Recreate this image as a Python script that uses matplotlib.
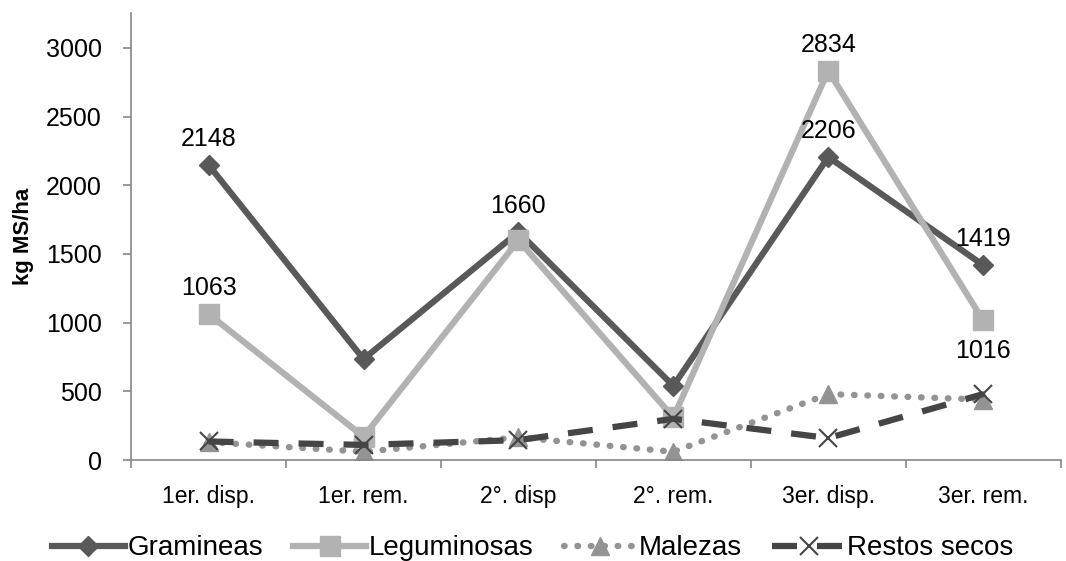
import matplotlib.pyplot as plt
from matplotlib.ticker import FixedLocator

plt.rcParams['font.family'] = ['Liberation Sans', 'DejaVu Sans']

etapas = ["1er. disp.", "1er. rem.", "2°. disp", "2°. rem.", "3er. disp.", "3er. rem."]
gramineas = [2148, 735, 1660, 540, 2206, 1419]
leguminosas = [1063, 170, 1600, 310, 2834, 1016]
malezas = [130, 60, 165, 60, 480, 440]
restos = [135, 110, 145, 300, 160, 480]

x = list(range(len(etapas)))

fig = plt.figure(figsize=(10.66, 5.61), dpi=100)
ax = fig.add_axes([0.123, 0.18, 0.872, 0.797])

lw = 4.5
ax.plot(x, gramineas, color='#595959', lw=lw, marker='D', ms=10.5, label='Gramineas')
ax.plot(x, leguminosas, color='#b2b2b2', lw=lw, marker='s', ms=15, label='Leguminosas')
ax.plot(x, malezas, color='#939393', lw=4.6, ls=(0, (0.1, 2.0)), dash_capstyle='round',
        marker='^', ms=13, label='Malezas')
ax.plot(x, restos, color='#454545', lw=lw, ls=(0, (4, 3.2)), marker='x', ms=13,
        mew=1.5, label='Restos secos')

# value labels
lbl = dict(textcoords='offset points', ha='center', fontsize=18)
for i, v in enumerate(gramineas):
    if i in (0, 2, 4, 5):
        ax.annotate(str(v), (i, v), xytext=(0, 10), va='bottom', **lbl)
for i, v in enumerate(leguminosas):
    if i in (0, 4):
        ax.annotate(str(v), (i, v), xytext=(0, 10), va='bottom', **lbl)
    elif i == 5:
        ax.annotate(str(v), (i, v), xytext=(0, -13), va='top', **lbl)

ax.set_xlim(-0.5, 5.5)
ax.set_ylim(0, 3255)
ax.set_yticks([0, 500, 1000, 1500, 2000, 2500, 3000])
ax.set_xticks(x)
ax.set_xticklabels(etapas, fontsize=16.5)
ax.xaxis.set_minor_locator(FixedLocator([i - 0.5 for i in range(7)]))
ax.tick_params(axis='x', which='major', length=0, pad=18)
ax.tick_params(axis='x', which='minor', length=6, width=1.2, color='#868686')
ax.tick_params(axis='y', length=6, width=1.2, color='#868686', labelsize=18, pad=15)

for s in ('top', 'right'):
    ax.spines[s].set_visible(False)
for s in ('left', 'bottom'):
    ax.spines[s].set_color('#868686')
    ax.spines[s].set_linewidth(1.2)

ax.set_ylabel('kg MS/ha', fontsize=16, fontweight='bold')
ax.yaxis.set_label_coords(-0.104, 0.5)

fig.legend(loc='lower center', bbox_to_anchor=(0.5, -0.045), ncol=4, frameon=False,
           fontsize=20, handlelength=2.6, handletextpad=0.1, columnspacing=1.1)

fig.savefig('out.png', dpi=100)
